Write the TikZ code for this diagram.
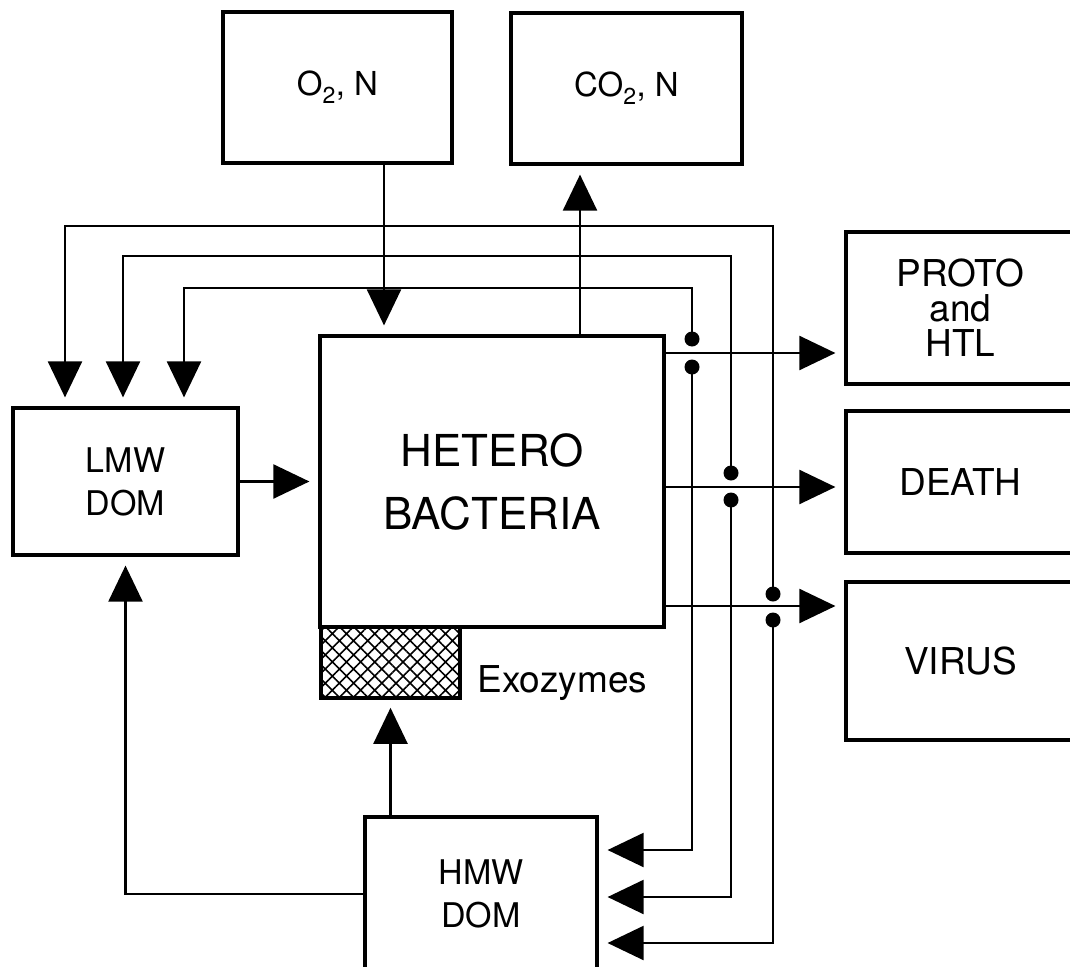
\documentclass[tikz,border=0pt]{standalone}
\usepackage{fontspec}
\setmainfont{TeX Gyre Heros}
\usetikzlibrary{arrows.meta,patterns.meta}

\begin{document}
\begin{tikzpicture}[x=1pt, y=-1pt, >={Triangle[length=36pt,width=34pt]},
  box/.style={draw, line width=3.2pt, inner sep=0pt, align=center},
  flow/.style={->, line width=2.2pt, shorten >=9pt},
  jdot/.style={circle, fill, inner sep=0pt, minimum size=15pt},
  gas/.style={font=\fontsize{33}{38}\selectfont},
  pool/.style={font=\fontsize{34}{43}\selectfont},
  sink/.style={font=\fontsize{37}{35}\selectfont}]
\useasboundingbox (0,0) rectangle (1070,966);
\clip (0,0) rectangle (1070,966);
% boxes
\node[box, gas, minimum width=229pt, minimum height=151pt] (o2) at (337.5,87.5) {O\textsubscript{2}, N};
\node[box, gas, minimum width=231pt, minimum height=151pt] (co2) at (626.5,88.5) {CO\textsubscript{2}, N};
\node[box, minimum width=344pt, minimum height=291pt,
  font=\fontsize{44}{63}\selectfont] (hetero) at (492,481.5) {HETERO\\BACTERIA};
\node[box, pattern={Hatch[angle=45,distance=10pt,line width=1.6pt]},
  minimum width=139pt, minimum height=71pt] (exo) at (390.5,662.5) {};
\node[anchor=base west, font=\fontsize{37}{42}\selectfont] (exolbl) at (474,692) {Exozymes};
\node[box, pool, minimum width=225pt, minimum height=147pt] (lmw) at (125.5,481.5) {LMW\\DOM};
\node[box, pool, minimum width=232pt, minimum height=154pt] (hmw) at (481,894) {HMW\\DOM};
\node[box, sink, minimum width=229pt, minimum height=152pt] (proto) at (960.5,308) {PROTO\\and\\HTL};
\node[box, sink, minimum width=229pt, minimum height=142pt] (death) at (960.5,482) {DEATH};
\node[box, sink, minimum width=229pt, minimum height=158pt] (virus) at (960.5,661) {VIRUS};
% helper points
\coordinate (inO) at (384,0);
\coordinate (outC) at (580,0);
\coordinate (rP) at (0,353);
\coordinate (rD) at (0,487);
\coordinate (rV) at (0,606);
\coordinate (kA) at (65,226);
\coordinate (kB) at (123,256);
\coordinate (kC) at (184,288);
\coordinate (jA) at (773,943);
\coordinate (jB) at (731,897);
\coordinate (jC) at (692,850);
% junction dots
\node[jdot] (c1) at (692,339) {};
\node[jdot] (c2) at (692,367) {};
\node[jdot] (b1) at (731,473) {};
\node[jdot] (b2) at (731,500) {};
\node[jdot] (a1) at (773,594) {};
\node[jdot] (a2) at (773,620) {};
% flows
\draw[flow] (o2.south -| inO) -- (hetero.north -| inO);
\draw[flow] (hetero.north -| outC) -- (co2.south -| outC);
\draw[flow] (lmw) -- (hetero);
\draw[flow] (hetero.east |- rP) -- (proto.west |- rP);
\draw[flow] (hetero.east |- rD) -- (death.west |- rD);
\draw[flow] (hetero.east |- rV) -- (virus.west |- rV);
% loops back to the DOM pools
\draw[flow] (c1.center) |- (kC) -- (kC |- lmw.north);
\draw[flow] (b1.center) |- (kB) -- (kB |- lmw.north);
\draw[flow] (a1.center) |- (kA) -- (kA |- lmw.north);
\draw[flow] (c2.center) -- (jC) -- (jC -| hmw.east);
\draw[flow] (b2.center) -- (jB) -- (jB -| hmw.east);
\draw[flow] (a2.center) -- (jA) -- (jA -| hmw.east);
\draw[flow] (hmw.west) -| (lmw.south);
\draw[flow] (exo.south |- hmw.north) -- (exo.south);
\end{tikzpicture}
\end{document}
